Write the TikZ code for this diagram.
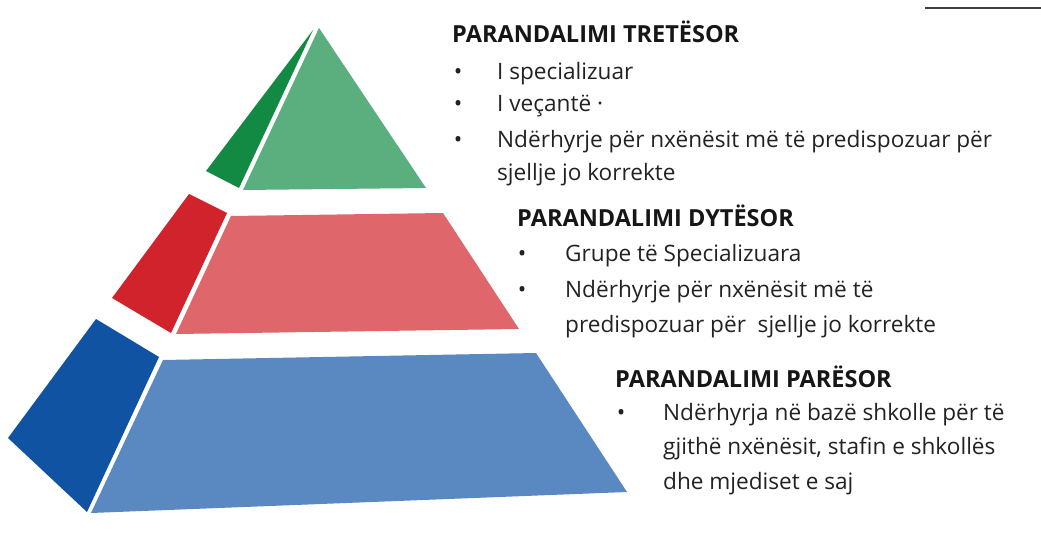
\documentclass[tikz,border=0pt]{standalone}
\usepackage{fontspec}
\setmainfont{Open Sans}
\definecolor{dgreen}{HTML}{138A43}
\definecolor{lgreen}{HTML}{5BAE7D}
\definecolor{dred}{HTML}{D0232B}
\definecolor{lred}{HTML}{DF666B}
\definecolor{dblue}{HTML}{1153A3}
\definecolor{lblue}{HTML}{5A88C0}
\definecolor{txt}{HTML}{222222}
\definecolor{ttl}{HTML}{161616}
\begin{document}
\begin{tikzpicture}[x=1pt,y=-1pt,
  ttlstyle/.style={anchor=base west,inner sep=0pt,text=ttl,font=\bfseries\fontsize{23.5}{28}\selectfont},
  body/.style={anchor=base west,inner sep=0pt,text=txt,font=\fontsize{22.6}{27}\selectfont},
  bul/.style={anchor=base,inner sep=0pt,text=txt,font=\fontsize{22.6}{27}\selectfont}]
\useasboundingbox[fill=white] (0,0) rectangle (1041,548);
% top-right rule
\draw[line width=2pt,color=black!75] (925,8) -- (1041,8);
% tier 3 (top)
\fill[dgreen] (313,30) -- (239,188) -- (206,171) -- cycle;
\fill[lgreen] (319,28) -- (426,188) -- (243,190) -- cycle;
% tier 2
\fill[dred] (189,194) -- (227,213) -- (171,333) -- (112,298) -- cycle;
\fill[lred] (231,216) -- (443,213) -- (519,329) -- (176,334) -- cycle;
% tier 1
\fill[dblue] (96,319) -- (159,357) -- (87,512) -- (8,438) -- cycle;
\fill[lblue] (163,360) -- (536,353) -- (627,492) -- (91,513) -- cycle;
% texts tier 3
\node[ttlstyle] (t3) at (452,43) {PARANDALIMI TRETËSOR};
\node[bul] (b31) at (458,80) {•};
\node[body] (l31) at (497,80) {I specializuar};
\node[bul] (b32) at (458,112) {•};
\node[body] (l32) at (497,112) {I veçantë ·};
\node[bul] (b33) at (458,148) {•};
\node[body] (l33) at (497,148) {Ndërhyrje për nxënësit më të predispozuar për};
\node[body] (l34) at (497,181) {sjellje jo korrekte};
% texts tier 2
\node[ttlstyle] (t2) at (517,226) {PARANDALIMI DYTËSOR};
\node[bul] (b21) at (522,261) {•};
\node[body] (l21) at (565,261) {Grupe të Specializuara};
\node[bul] (b22) at (522,297) {•};
\node[body] (l22) at (565,297) {Ndërhyrje për nxënësit më të};
\node[body] (l23) at (565,332) {predispozuar për\ \ sjellje jo korrekte};
% texts tier 1
\node[ttlstyle] (t1) at (615,387) {PARANDALIMI PARËSOR};
\node[bul] (b11) at (621,420) {•};
\node[body] (l11) at (663,420) {Ndërhyrja në bazë shkolle për të};
\node[body] (l12) at (663,454) {gjithë nxënësit, stafin e shkollës};
\node[body] (l13) at (663,489) {dhe mjediset e saj};
\end{tikzpicture}
\end{document}
